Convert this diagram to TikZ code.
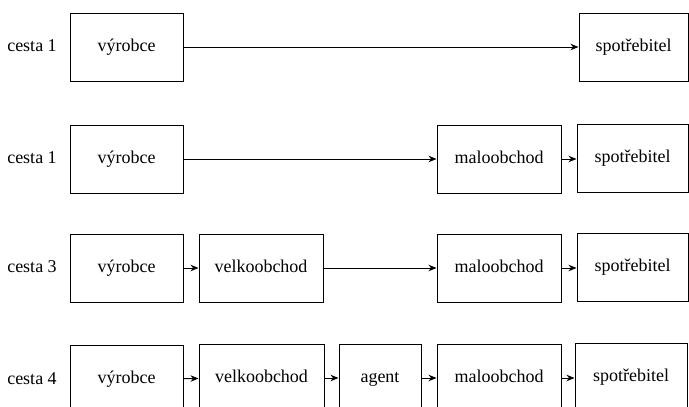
\documentclass[tikz,border=0pt]{standalone}
\usepackage{fontspec}
\setmainfont{Liberation Serif}
\usetikzlibrary{arrows.meta}
\begin{document}
\begin{tikzpicture}[x=1pt,y=-1pt,
  box/.style={draw, line width=1pt, minimum height=68pt, inner sep=0pt, text height=12.5pt, text depth=4pt, font=\fontsize{18}{20}\selectfont},
  lab/.style={font=\fontsize{18}{20}\selectfont, inner sep=0pt, text height=12.5pt, text depth=4pt},
  arr/.style={-{Stealth[length=8pt,width=6.5pt]}, line width=1pt}]
\useasboundingbox (0,0) rectangle (689,407);
\clip (0,0) rectangle (689,407);
% row 1
\node[lab] (c1) at (32,47) {cesta 1};
\node[box, minimum width=113pt] (v1) at (126.5,47) {výrobce};
\node[box, minimum width=109pt] (s1) at (633.5,47) {spotřebitel};
\draw[arr] (v1) -- (s1);
% row 2
\node[lab] (c2) at (32,159) {cesta 1};
\node[box, minimum width=113pt] (v2) at (126.5,159) {výrobce};
\node[box, minimum width=124pt] (m2) at (499,159) {maloobchod};
\node[box, minimum width=111pt] (s2) at (632.5,158) {spotřebitel};
\draw[arr] (v2) -- (m2);
\draw[arr] (m2) -- (m2 -| s2.west);
% row 3
\node[lab] (c3) at (32,268) {cesta 3};
\node[box, minimum width=113pt] (v3) at (126.5,268) {výrobce};
\node[box, minimum width=124pt] (k3) at (261,268) {velkoobchod};
\node[box, minimum width=124pt] (m3) at (499,268) {maloobchod};
\node[box, minimum width=111pt] (s3) at (632.5,267) {spotřebitel};
\draw[arr] (v3) -- (k3);
\draw[arr] (k3) -- (m3);
\draw[arr] (m3) -- (m3 -| s3.west);
% row 4
\node[lab] (c4) at (32,380) {cesta 4};
\node[box, minimum width=113pt] (v4) at (126.5,379) {výrobce};
\node[box, minimum width=125pt] (k4) at (261.5,378) {velkoobchod};
\node[box, minimum width=82pt] (a4) at (380,378) {agent};
\node[box, minimum width=124pt] (m4) at (499,378) {maloobchod};
\node[box, minimum width=112pt] (s4) at (631,377) {spotřebitel};
\draw[arr] (v4) -- (k4);
\draw[arr] (k4) -- (a4);
\draw[arr] (a4) -- (m4);
\draw[arr] (m4) -- (m4 -| s4.west);
\end{tikzpicture}
\end{document}
